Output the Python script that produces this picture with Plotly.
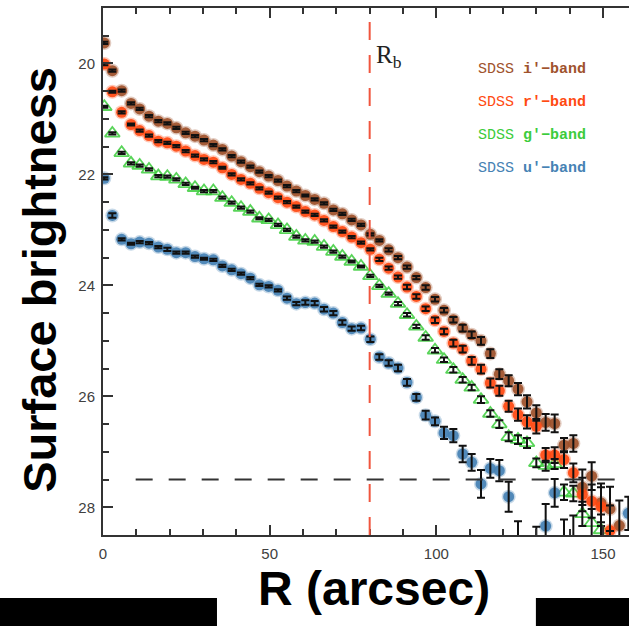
import plotly.graph_objects as go

# Radial sample positions (arcsec)
R = [0.4, 2.8, 5.6, 8.4, 11.0, 13.8, 16.6, 19.3, 22.0, 24.8,
     27.6, 30.3, 33.1, 35.8, 38.6, 41.4, 44.2, 46.9, 49.7, 52.5,
     55.2, 58.0, 60.7, 63.5, 66.3, 69.1, 71.8, 74.6, 77.4, 80.2,
     82.9, 85.7, 88.5, 91.2, 94.0, 96.8, 99.6, 102.3, 105.1, 107.9,
     110.6, 113.4, 116.2, 118.9, 121.7, 124.5, 127.2, 130.0, 132.8, 135.5,
     138.3, 141.1, 143.8, 146.6, 149.4, 152.1, 154.9, 157.6]

# Surface brightness profiles (mag/arcsec^2) and their errors
i_band = [19.63, 20.13, 20.49, 20.72, 20.82, 20.95, 21.04, 21.08, 21.16, 21.25,
          21.31, 21.38, 21.47, 21.55, 21.67, 21.77, 21.86, 21.95, 22.03, 22.11,
          22.21, 22.30, 22.38, 22.45, 22.52, 22.64, 22.71, 22.82, 22.91, 23.08,
          23.19, 23.36, 23.50, 23.67, 23.86, 24.04, 24.25, 24.45, 24.62, 24.77,
          24.89, 25.00, 25.23, 25.60, 25.72, 25.87, 26.10, 26.30, 26.47, 26.49,
          26.88, 26.85, 27.64, 27.44, 27.92, 28.03, 28.33, None]
i_err = [0.02, 0.02, 0.02, 0.02, 0.02, 0.02, 0.02, 0.02, 0.02, 0.02,
         0.02, 0.02, 0.02, 0.02, 0.02, 0.02, 0.02, 0.02, 0.02, 0.02,
         0.02, 0.02, 0.02, 0.02, 0.02, 0.02, 0.02, 0.02, 0.02, 0.02,
         0.02, 0.03, 0.03, 0.03, 0.03, 0.04, 0.04, 0.04, 0.05, 0.06,
         0.06, 0.07, 0.08, 0.09, 0.10, 0.11, 0.12, 0.14, 0.15, 0.16,
         0.13, 0.15, 0.32, 0.25, 0.35, 0.40, 0.45, 0.0]

r_band = [20.01, 20.51, 20.88, 21.10, 21.21, 21.30, 21.40, 21.43, 21.49, 21.58,
          21.66, 21.73, 21.78, 21.88, 22.00, 22.09, 22.16, 22.25, 22.33, 22.42,
          22.50, 22.58, 22.67, 22.73, 22.83, 22.94, 23.03, 23.13, 23.23, 23.35,
          23.53, 23.69, 23.85, 24.03, 24.20, 24.42, 24.63, 24.83, 25.04, 25.15,
          25.36, 25.51, 25.76, 25.90, 26.18, 26.33, 26.46, 26.54, 27.06, 27.06,
          27.14, 27.38, 27.77, 27.89, 27.99, 28.42, None, None]
r_err = [0.02, 0.02, 0.02, 0.02, 0.02, 0.02, 0.02, 0.02, 0.02, 0.02,
         0.02, 0.02, 0.02, 0.02, 0.02, 0.02, 0.02, 0.02, 0.02, 0.02,
         0.02, 0.02, 0.02, 0.02, 0.02, 0.02, 0.02, 0.02, 0.02, 0.02,
         0.03, 0.03, 0.03, 0.04, 0.04, 0.04, 0.05, 0.05, 0.06, 0.06,
         0.07, 0.08, 0.08, 0.09, 0.10, 0.11, 0.12, 0.13, 0.13, 0.14,
         0.15, 0.17, 0.30, 0.30, 0.35, 0.45, 0.0, 0.0]

g_band = [20.78, 21.26, 21.61, 21.80, 21.84, 21.91, 22.03, 22.04, 22.09, 22.17,
          22.24, 22.30, 22.30, 22.42, 22.51, 22.60, 22.67, 22.79, 22.82, 22.91,
          23.00, 23.12, 23.19, 23.21, 23.30, 23.39, 23.48, 23.57, 23.66, 23.83,
          24.01, 24.15, 24.33, 24.53, 24.74, 24.94, 25.17, 25.34, 25.52, 25.70,
          25.84, 26.06, 26.31, 26.50, 26.73, 26.78, 26.84, 27.20, 27.25, 27.22,
          27.73, 27.75, 28.12, 28.28, 28.41, None, None, None]
g_err = [0.02, 0.02, 0.02, 0.02, 0.02, 0.02, 0.02, 0.02, 0.02, 0.02,
         0.02, 0.02, 0.02, 0.02, 0.02, 0.02, 0.02, 0.02, 0.02, 0.02,
         0.02, 0.02, 0.02, 0.02, 0.02, 0.02, 0.02, 0.02, 0.02, 0.02,
         0.02, 0.02, 0.03, 0.03, 0.03, 0.04, 0.04, 0.04, 0.05, 0.05,
         0.05, 0.06, 0.06, 0.07, 0.08, 0.08, 0.09, 0.08, 0.09, 0.09,
         0.14, 0.14, 0.22, 0.25, 0.28, 0.0, 0.0, 0.0]

u_band = [22.07, 22.74, 23.17, 23.25, 23.22, 23.24, 23.31, 23.35, 23.41, 23.41,
          23.48, 23.52, 23.54, 23.65, 23.72, 23.79, 23.87, 23.99, 24.02, 24.09,
          24.23, 24.33, 24.31, 24.32, 24.43, 24.50, 24.67, 24.78, 24.77, 24.97,
          25.29, 25.40, 25.49, 25.75, 26.02, 26.34, 26.45, 26.66, 26.71, 27.04,
          27.19, 27.58, 27.30, 27.34, 27.81, 28.80, None, 28.85, 28.34, 27.74,
          28.80, 28.85, None, None, None, None, None, 28.11]
u_err = [0.02, 0.04, 0.02, 0.02, 0.02, 0.02, 0.02, 0.03, 0.02, 0.02,
         0.02, 0.02, 0.02, 0.02, 0.02, 0.02, 0.02, 0.02, 0.02, 0.02,
         0.03, 0.03, 0.04, 0.04, 0.04, 0.04, 0.04, 0.04, 0.04, 0.05,
         0.05, 0.05, 0.06, 0.06, 0.06, 0.08, 0.07, 0.11, 0.12, 0.15,
         0.15, 0.25, 0.17, 0.19, 0.27, 0.55, 0.0, 0.50, 0.40, 0.25,
         0.58, 0.70, 0.0, 0.0, 0.0, 0.0, 0.0, 0.30]

BAND_LABELS = ["i\u2032\u2212band", "r\u2032\u2212band", "g\u2032\u2212band", "u\u2032\u2212band"]
R_BREAK = 80
SKY_LIMIT = 27.5

COL_I = "#a0522d"
COL_R = "#ff4a12"
COL_G = "#3ccc3c"
COL_U = "#4682b4"

fig = go.Figure()

# marker layers (drawn first, so the error bars sit on top)
series = [
    ("g", g_band, g_err, COL_G, "triangle-up-open"),
    ("i", i_band, i_err, COL_I, "circle"),
    ("r", r_band, r_err, COL_R, "circle"),
    ("u", u_band, u_err, COL_U, "circle"),
]
for name, vals, err, col, sym in series:
    if sym == "circle":
        # soft halo around each dot
        fig.add_trace(go.Scatter(
            x=R, y=vals, mode="markers", hoverinfo="skip",
            marker=dict(symbol="circle", size=14, color=col, opacity=0.3,
                        line=dict(width=0)),
        ))
        fig.add_trace(go.Scatter(
            x=R, y=vals, mode="markers", name=name,
            marker=dict(symbol="circle", size=11, color=col, opacity=0.92,
                        line=dict(width=0)),
        ))
    else:
        fig.add_trace(go.Scatter(
            x=R, y=vals, mode="markers", name=name,
            marker=dict(symbol=sym, size=13, color=col, opacity=0.85,
                        line=dict(width=1.8, color=col)),
        ))

# error bars on top of every marker
for name, vals, err, col, sym in series:
    fig.add_trace(go.Scatter(
        x=R, y=vals, mode="markers", hoverinfo="skip",
        marker=dict(size=1, color="rgba(0,0,0,0)"),
        error_y=dict(type="data", array=err, visible=True, color="#111111",
                     thickness=2, width=4),
    ))

axis_col = "#333333"
fig.update_layout(
    width=629, height=626,
    margin=dict(l=103, r=0, t=8, b=91),
    paper_bgcolor="white", plot_bgcolor="white",
    showlegend=False,
    xaxis=dict(
        range=[0, 157.8], tickvals=[0, 50, 100, 150],
        ticks="inside", ticklen=10, tickwidth=1.5, tickcolor=axis_col,
        showline=True, linewidth=2, linecolor=axis_col, mirror="ticks",
        showgrid=False, zeroline=False, ticklabelstandoff=4,
        tickfont=dict(family="Liberation Sans", size=15, color="#404040"),
        minor=dict(dtick=10, ticks="inside", ticklen=6, tickwidth=1.5,
                   tickcolor=axis_col, showgrid=False),
    ),
    yaxis=dict(
        range=[28.5, 19.0], tickvals=[20, 22, 24, 26, 28],
        ticks="inside", ticklen=10, tickwidth=1.5, tickcolor=axis_col,
        showline=True, linewidth=2, linecolor=axis_col, mirror=False,
        showgrid=False, zeroline=False, ticklabelstandoff=3,
        tickfont=dict(family="Liberation Sans", size=15, color="#404040"),
        minor=dict(dtick=0.5, ticks="inside", ticklen=6, tickwidth=1.5,
                   tickcolor=axis_col, showgrid=False),
    ),
)

# break radius and limiting surface brightness
fig.add_shape(type="line", xref="x", yref="y", x0=R_BREAK, x1=R_BREAK,
              y0=28.5, y1=19.0, line=dict(color="#f0553e", width=2, dash="18px,15px"))
fig.add_shape(type="line", xref="x", yref="y", x0=9.8, x1=157.8,
              y0=SKY_LIMIT, y1=SKY_LIMIT,
              line=dict(color="#333333", width=2, dash="17px,16px"))

fig.add_annotation(x=R_BREAK + 1.3, y=19.55, xref="x", yref="y",
                   text="R<sub>b</sub>", showarrow=False,
                   xanchor="left", yanchor="top",
                   font=dict(family="Liberation Serif", size=25, color="#222222"))

# band labels
label_y = [20.11, 20.70, 21.29, 21.89]
label_cols = [COL_I, COL_R, COL_G, COL_U]
for lab, ly, lc in zip(BAND_LABELS, label_y, label_cols):
    fig.add_annotation(x=112.0, y=ly, xref="x", yref="y",
                       text="SDSS <b>" + lab + "</b>", showarrow=False,
                       xanchor="left", yanchor="middle",
                       font=dict(family="Liberation Mono", size=15, color=lc))

# axis titles
fig.add_annotation(x=0.515, y=-0.101, xref="paper", yref="paper",
                   text="<b>R (arcsec)</b>", showarrow=False,
                   xanchor="center", yanchor="middle",
                   font=dict(family="Liberation Sans", size=48, color="black"))
fig.add_annotation(x=-0.12, y=0.484, xref="paper", yref="paper",
                   text="<b>Surface brightness</b>", showarrow=False,
                   textangle=-90, xanchor="center", yanchor="middle",
                   font=dict(family="Liberation Sans", size=47, color="black"))

# black bands along the bottom edge
fig.add_shape(type="rect", xref="paper", yref="paper",
              x0=-0.2, x1=0.2167, y0=-0.1195, y1=-0.18,
              fillcolor="black", line=dict(width=0))
fig.add_shape(type="rect", xref="paper", yref="paper",
              x0=0.823, x1=1.01, y0=-0.1195, y1=-0.18,
              fillcolor="black", line=dict(width=0))

fig.write_html("out.html")
